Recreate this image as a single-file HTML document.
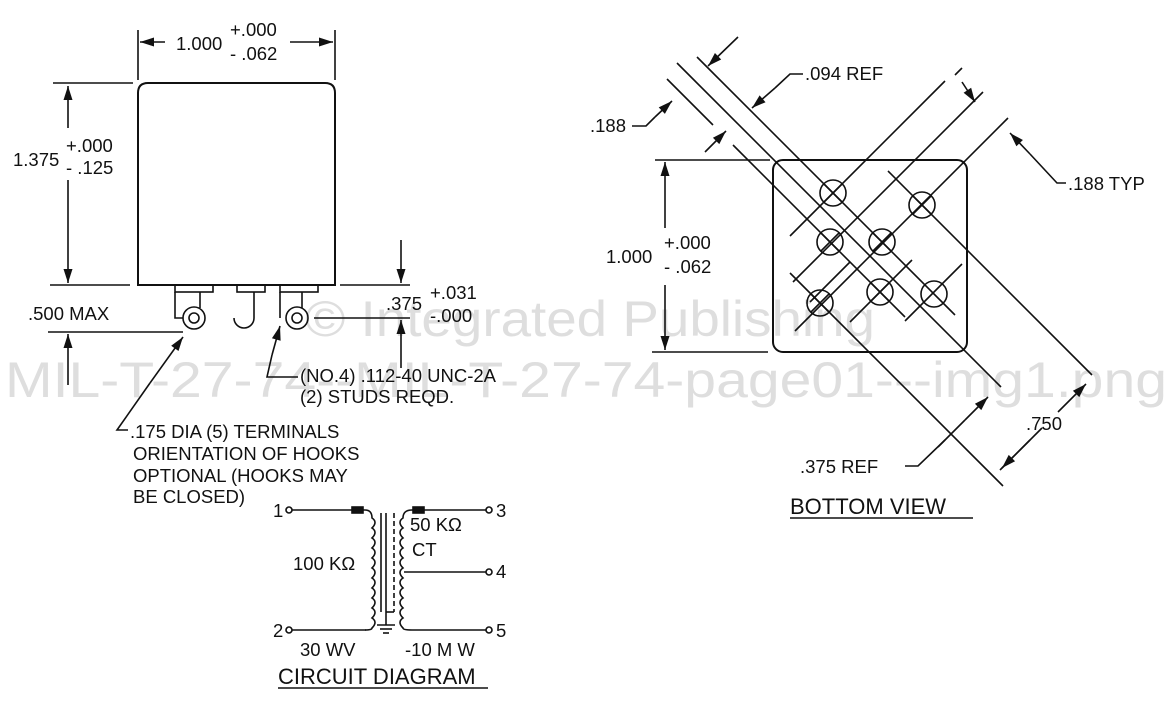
<!DOCTYPE html>
<html><head><meta charset="utf-8"><style>
html,body{margin:0;padding:0;background:#fff;}
svg{display:block;}
text{font-family:"Liberation Sans",sans-serif;fill:#111;}
text.wm{fill:#dedede;}
</style></head><body>
<svg id="s" width="1174" height="705" viewBox="0 0 1174 705" xmlns="http://www.w3.org/2000/svg">
<g font-size="50">
<text class="wm" x="305" y="336" textLength="570" lengthAdjust="spacingAndGlyphs">© Integrated Publishing</text>
<text class="wm" x="5" y="397" textLength="1162" lengthAdjust="spacingAndGlyphs">MIL-T-27-74--MIL-T-27-74-page01---img1.png</text>
</g>
<g stroke="#111" stroke-width="1.6" fill="none">
<path d="M138,285 V93 Q138,83 148,83 H325 Q335,83 335,93 V285 Z" stroke-width="2"/>
<line x1="138" y1="30" x2="138" y2="80"/><line x1="335" y1="30" x2="335" y2="80"/>
<line x1="53" y1="83" x2="133" y2="83"/><line x1="50" y1="285" x2="130" y2="285"/>
<line x1="48" y1="332" x2="183" y2="332"/>
<line x1="340" y1="285" x2="410" y2="285"/>
<line x1="314" y1="318" x2="410" y2="318"/>
<rect x="175" y="285" width="38" height="7"/><rect x="237" y="285" width="28" height="7"/><rect x="280" y="285" width="38" height="7"/>
<path d="M175,292 V318 H183 M200,292 V308"/>
<path d="M280,292 V318 M302,292 V308"/>
<circle cx="194" cy="318" r="11"/><circle cx="194" cy="318" r="5"/>
<circle cx="297" cy="318" r="11"/><circle cx="297" cy="318" r="5"/>
<path d="M254,292 V318 A10,10 0 1 1 234,318"/>
<path d="M128,430 L117,430 L150,383"/>
<path d="M298,377 L267,377 L272,355"/>
<line x1="292" y1="510" x2="365" y2="510"/>
<rect x="352" y="507" width="11" height="6" fill="#111"/>
<path d="M365,510 Q372,510 372,518 q6,4 0,10 q6,4 0,10 q6,4 0,10 q6,4 0,10 q6,4 0,10 q6,4 0,10 q6,4 0,10 q6,4 0,10 q6,4 0,10 q6,4 0,10 q6,4 0,10 Q372,630 365,630"/>
<line x1="292" y1="630" x2="366" y2="630"/>
<line x1="381" y1="513" x2="381" y2="612"/><line x1="386" y1="513" x2="386" y2="612"/>
<line x1="394" y1="513" x2="394" y2="612" stroke-dasharray="5,3"/>
<line x1="386" y1="612" x2="394" y2="612"/><line x1="386" y1="612" x2="386" y2="625"/>
<line x1="377" y1="625" x2="395" y2="625"/><line x1="380" y1="629" x2="392" y2="629"/><line x1="383" y1="633" x2="389" y2="633"/>
<path d="M412,510 Q403,510 403,518 q-6,4 0,10 q-6,4 0,10 q-6,4 0,10 q-6,4 0,10 q-6,4 0,10 q-6,4 0,10 q-6,4 0,10 q-6,4 0,10 q-6,4 0,10 q-6,4 0,10 q-6,4 0,10 Q403,630 412,630"/>
<line x1="412" y1="510" x2="486" y2="510"/><rect x="413" y="507" width="11" height="6" fill="#111"/>
<line x1="404" y1="572" x2="486" y2="572"/>
<line x1="412" y1="630" x2="486" y2="630"/>
<circle cx="289" cy="510" r="3"/><circle cx="289" cy="630" r="3"/>
<circle cx="489" cy="510" r="3"/><circle cx="489" cy="572" r="3"/><circle cx="489" cy="630" r="3"/>
<line x1="278" y1="688" x2="488" y2="688"/>
<line x1="790" y1="518" x2="973" y2="518"/>
<rect x="773" y="160" width="194" height="192" rx="10" stroke-width="2"/>
<line x1="655" y1="160" x2="770" y2="160"/><line x1="652" y1="352" x2="768" y2="352"/>
<line x1="697" y1="57" x2="955" y2="315"/>
<line x1="677" y1="63" x2="1001" y2="387"/>
<line x1="667" y1="79" x2="713" y2="125"/>
<line x1="733" y1="145" x2="905" y2="317"/>
<line x1="888" y1="171" x2="1092" y2="375"/>
<line x1="790" y1="273" x2="1003" y2="486"/>
<line x1="945" y1="81" x2="790" y2="236"/>
<line x1="983" y1="92" x2="793" y2="282"/>
<line x1="1008" y1="118" x2="795" y2="331"/>
<line x1="912" y1="260" x2="850" y2="322"/>
<line x1="962" y1="264" x2="905" y2="321"/>
<line x1="850" y1="262" x2="810" y2="302"/>
<circle cx="833" cy="193" r="13"/><circle cx="922" cy="205" r="13"/>
<circle cx="830" cy="242" r="13"/><circle cx="882" cy="242" r="13"/>
<circle cx="820" cy="303" r="13"/><circle cx="880" cy="292" r="13"/><circle cx="934" cy="294" r="13"/>
<path d="M824,184 l18,18 M824,202 l18,-18 M913,196 l18,18 M913,214 l18,-18 M821,233 l18,18 M821,251 l18,-18 M873,233 l18,18 M873,251 l18,-18 M811,294 l18,18 M811,312 l18,-18 M871,283 l18,18 M871,301 l18,-18"/>
<path d="M803,74 H790 L775,88"/>
<path d="M632,126 H646 L655,117"/>
<line x1="955" y1="75" x2="962" y2="68"/>
<path d="M1066,183 H1057 L1030,154"/>
<line x1="1000" y1="470" x2="1042" y2="428"/>
<path d="M905,466 H918 L945,440"/>
<line x1="938" y1="447" x2="965" y2="420"/>
<g id="arr"></g>
</g>
<g font-size="18.5">
<text x="176" y="50">1.000</text><text x="230" y="36">+.000</text><text x="230" y="60">- .062</text>
<text x="13" y="166">1.375</text><text x="66" y="152">+.000</text><text x="66" y="174">- .125</text>
<text x="28" y="320">.500 MAX</text>
<text x="386" y="310">.375</text><text x="430" y="299">+.031</text><text x="430" y="322">-.000</text>
<text x="300" y="382">(NO.4) .112-40 UNC-2A</text><text x="300" y="403">(2) STUDS REQD.</text>
<text x="130" y="438">.175 DIA (5) TERMINALS</text><text x="133" y="460">ORIENTATION OF HOOKS</text>
<text x="133" y="482">OPTIONAL (HOOKS MAY</text><text x="133" y="503">BE CLOSED)</text>
<text x="273" y="517">1</text><text x="273" y="637">2</text>
<text x="496" y="517">3</text><text x="496" y="578">4</text><text x="496" y="637">5</text>
<text x="293" y="570">100 KΩ</text><text x="410" y="531">50 KΩ</text><text x="412" y="556">CT</text>
<text x="300" y="656">30 WV</text><text x="405" y="656">-10 M W</text>
<text x="278" y="684" font-size="22">CIRCUIT DIAGRAM</text>
<text x="805" y="80">.094 REF</text><text x="590" y="132">.188</text>
<text x="1068" y="190">.188 TYP</text>
<text x="606" y="263">1.000</text><text x="664" y="249">+.000</text><text x="664" y="273">- .062</text>
<text x="1026" y="430">.750</text><text x="800" y="473">.375 REF</text>
<text x="790" y="514" font-size="22">BOTTOM VIEW</text>
</g>
</svg>
<script>
(function(){
var g=document.getElementById('arr'),ns='http://www.w3.org/2000/svg';
function A(x1,y1,x2,y2){
 var l=document.createElementNS(ns,'line');
 l.setAttribute('x1',x1);l.setAttribute('y1',y1);l.setAttribute('x2',x2);l.setAttribute('y2',y2);g.appendChild(l);
 var dx=x2-x1,dy=y2-y1,d=Math.sqrt(dx*dx+dy*dy);dx/=d;dy/=d;
 var L=14,W=4.5,bx=x2-dx*L,by=y2-dy*L;
 var p=document.createElementNS(ns,'polygon');
 p.setAttribute('points',x2+','+y2+' '+(bx-dy*W)+','+(by+dx*W)+' '+(bx+dy*W)+','+(by-dx*W));
 p.setAttribute('fill','#111');p.setAttribute('stroke','none');g.appendChild(p);
}
A(165,42,140,42);A(290,42,333,42);
A(68,128,68,86);A(68,180,68,283);A(68,385,68,334);
A(401,240,401,283);A(401,368,401,320);
A(150,383,183,337);A(272,355,280,326);
A(738,37,708,66);A(775,88,752,108);A(655,117,672,101);A(705,152,726,131);
A(962,82,975,102);A(1030,154,1010,133);
A(1030,440,1002,468);A(1058,412,1086,384);A(965,420,988,397);
A(665,228,665,162);A(665,285,665,350);
})();
</script>
</body></html>
